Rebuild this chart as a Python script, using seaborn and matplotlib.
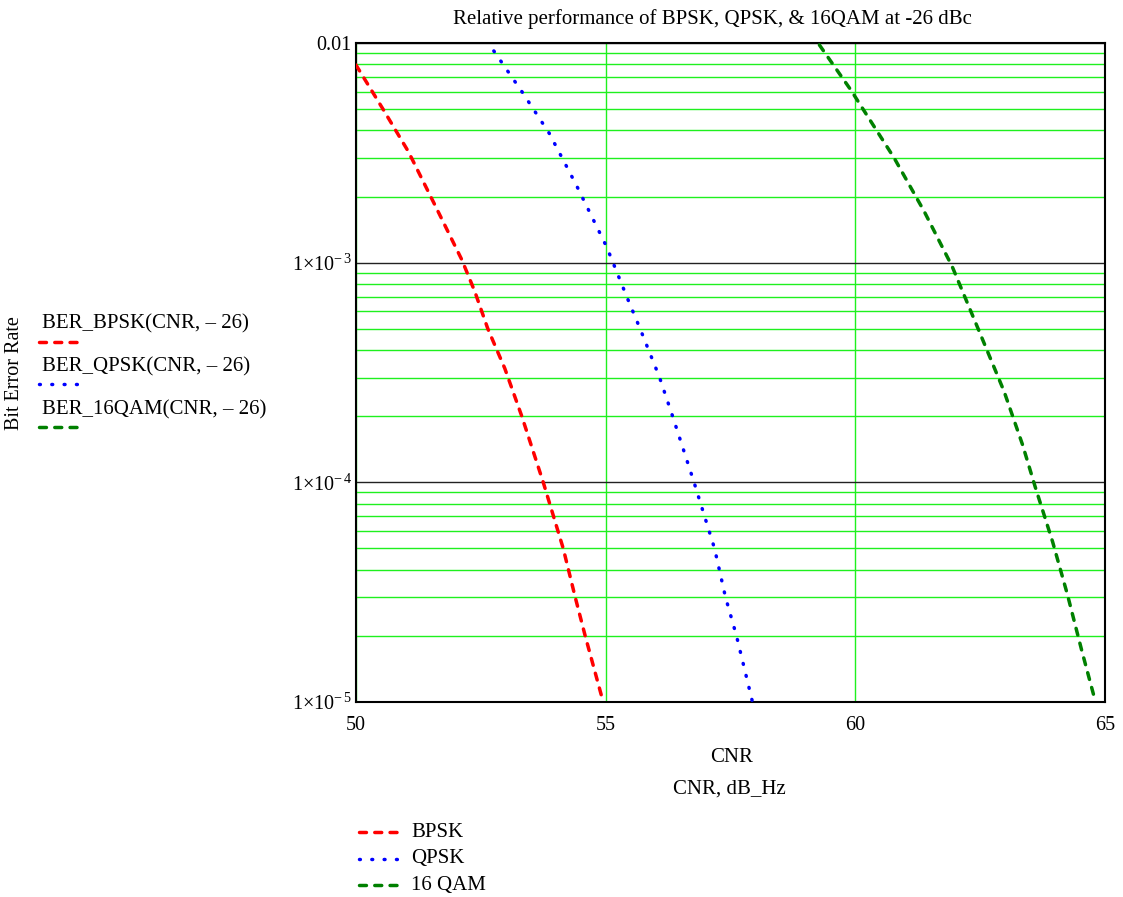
import matplotlib
matplotlib.use("Agg")
import matplotlib.pyplot as plt
from matplotlib.lines import Line2D
from matplotlib.ticker import FixedLocator, FixedFormatter, NullFormatter
import pandas as pd
import seaborn as sns

# Bit error rate vs. carrier-to-noise ratio (dB-Hz) at -26 dBc
cnr_bpsk = [50.00, 50.55, 51.05, 51.58, 52.12, 52.38, 52.64, 52.98, 53.32, 53.75, 54.15, 54.39, 54.59, 54.95]
ber_bpsk = [7.94e-3, 4.96e-3, 3.2e-3, 1.83e-3, 1.03e-3, 7.38e-4, 5.0e-4, 3.3e-4, 2.0e-4, 1.0e-4, 5.0e-5, 3.0e-5, 2.0e-5, 1.0e-5]

cnr_qpsk = [52.76, 53.33, 53.87, 54.41, 55.02, 55.43, 55.69, 56.08, 56.34, 56.77, 57.18, 57.40, 57.62, 57.94]
ber_qpsk = [9.2e-3, 5.97e-3, 3.88e-3, 2.26e-3, 1.18e-3, 6.93e-4, 5.0e-4, 3.0e-4, 2.0e-4, 1.0e-4, 5.0e-5, 3.0e-5, 2.0e-5, 1.0e-5]

cnr_16qam = [59.28, 59.91, 60.78, 61.38, 61.94, 62.51, 62.98, 63.35, 63.60, 63.95, 64.25, 64.53, 64.80]
ber_16qam = [9.8e-3, 6.11e-3, 2.99e-3, 1.71e-3, 9.6e-4, 4.69e-4, 2.59e-4, 1.48e-4, 9.57e-5, 5.37e-5, 3.07e-5, 1.73e-5, 1.02e-5]

ytick_values = [1e-2, 1e-3, 1e-4, 1e-5]
ytick_labels = ["0.01", r"$1{\times}10^{-\,3}$", r"$1{\times}10^{-\,4}$", r"$1{\times}10^{-\,5}$"]
xtick_values = [50, 55, 60, 65]
xtick_labels = ["50", "55", "60", "65"]

fn_labels = ["BER_BPSK(CNR, \u2013 26)", "BER_QPSK(CNR, \u2013 26)", "BER_16QAM(CNR, \u2013 26)"]
mod_labels = ["BPSK", "QPSK", "16 QAM"]

sns.set_style("white")
plt.rcParams["font.family"] = ["Liberation Serif", "DejaVu Serif"]
plt.rcParams["mathtext.fontset"] = "custom"
plt.rcParams["mathtext.rm"] = "Liberation Serif"
plt.rcParams["mathtext.it"] = "Liberation Serif:italic"
plt.rcParams["mathtext.bf"] = "Liberation Serif:bold"
plt.rcParams["text.color"] = "black"
plt.rcParams["xtick.color"] = "black"
plt.rcParams["ytick.color"] = "black"
plt.rcParams["axes.labelcolor"] = "black"

W, H = 1123, 897
fig = plt.figure(figsize=(W / 100, H / 100), dpi=100)
ax = fig.add_axes([356 / W, 1 - 702 / H, (1105 - 356) / W, (702 - 43) / H])

LW = 2.5
styles = [
    ("#ff0000", (0, (2.0, 2.4))),
    ("#0000ff", (0, (0.25, 3.3))),
    ("#008000", (0, (2.0, 2.4))),
]
frames = [
    pd.DataFrame({"cnr": cnr_bpsk, "ber": ber_bpsk}),
    pd.DataFrame({"cnr": cnr_qpsk, "ber": ber_qpsk}),
    pd.DataFrame({"cnr": cnr_16qam, "ber": ber_16qam}),
]
for df, (col, ls) in zip(frames, styles):
    sns.lineplot(data=df, x="cnr", y="ber", ax=ax, color=col, lw=LW,
                 linestyle=ls, dash_capstyle="round", sort=False,
                 estimator=None, zorder=3)

ax.set_yscale("log")
ax.set_xlim(50, 65)
ax.set_ylim(1e-5, 1e-2)

ax.xaxis.set_major_locator(FixedLocator(xtick_values))
ax.xaxis.set_major_formatter(FixedFormatter(xtick_labels))
ax.yaxis.set_major_locator(FixedLocator(ytick_values))
ax.yaxis.set_major_formatter(FixedFormatter(ytick_labels))
minor_y = [m * 10.0 ** e for e in (-5, -4, -3) for m in range(2, 10)]
ax.yaxis.set_minor_locator(FixedLocator(minor_y))
ax.yaxis.set_minor_formatter(NullFormatter())
ax.tick_params(axis="both", which="both", length=0, labelsize=14.5, colors="black")
ax.tick_params(axis="y", pad=3)
ax.tick_params(axis="x", pad=10)

lime = "#1ef01e"
ax.set_axisbelow(True)
ax.grid(True, which="major", axis="x", color=lime, lw=1.0)
ax.grid(True, which="minor", axis="y", color=lime, lw=1.0)
ax.grid(True, which="major", axis="y", color="#222222", lw=1.0)
for sp in ax.spines.values():
    sp.set_visible(True)
    sp.set_color("black")
    sp.set_linewidth(1.5)

ax.set_xlabel("")
ax.set_ylabel("")

def fx(px):
    return px / W

def fy(py):
    return 1 - py / H

fig.text(fx(712), fy(19), "Relative performance of BPSK, QPSK, & 16QAM at -26 dBc",
         ha="center", va="center", fontsize=15)
fig.text(fx(732), fy(757), "CNR", ha="center", va="center", fontsize=15)
fig.text(fx(729), fy(789), "CNR, dB_Hz", ha="center", va="center", fontsize=15)
fig.text(fx(15), fy(373), "Bit Error Rate", ha="center", va="center",
         rotation=90, fontsize=14.5)

# function legend on the left: label above its line sample
for i, (lab, (col, ls)) in enumerate(zip(fn_labels, styles)):
    ty = 324 + i * 43
    ly = 342 + i * 42.5
    fig.text(fx(42), fy(ty), lab, ha="left", va="center", fontsize=15)
    fig.add_artist(Line2D([fx(39), fx(81)], [fy(ly), fy(ly)], transform=fig.transFigure,
                          color=col, lw=LW, linestyle=ls, dash_capstyle="round"))

# modulation key below the plot
for i, (lab, (col, ls)) in enumerate(zip(mod_labels, styles)):
    y = 832 + i * 26.6
    fig.add_artist(Line2D([fx(359), fx(402)], [fy(y), fy(y)], transform=fig.transFigure,
                          color=col, lw=LW, linestyle=ls, dash_capstyle="round"))
    fig.text(fx(411), fy(y), lab, ha="left", va="center", fontsize=15)

fig.savefig("out.png", dpi=100)
